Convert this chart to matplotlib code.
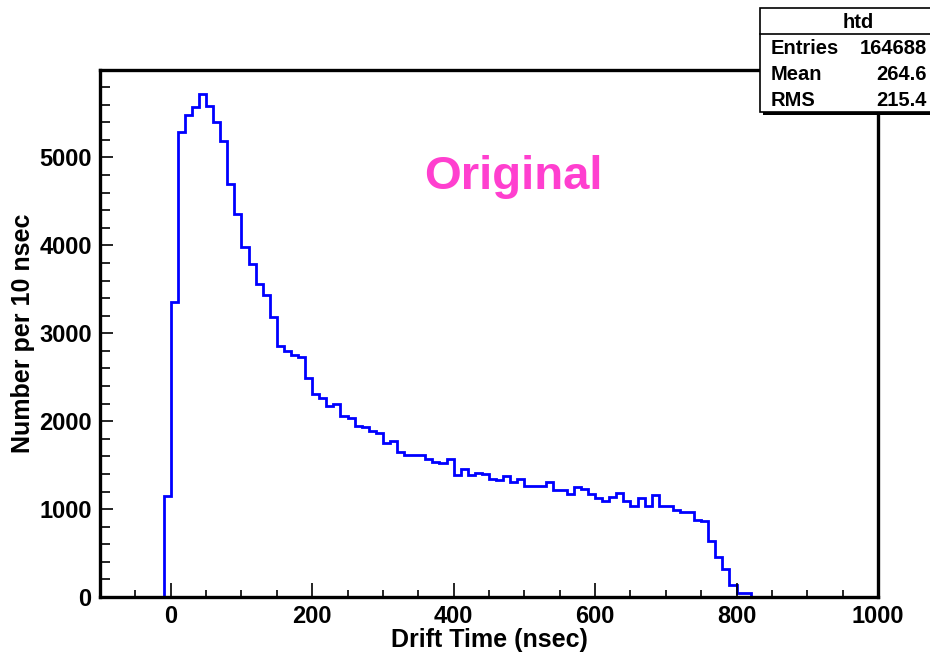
import numpy as np
import matplotlib.pyplot as plt
from matplotlib.patches import Rectangle
from matplotlib.ticker import MultipleLocator

plt.rcParams['font.family'] = ['Liberation Sans', 'DejaVu Sans']
plt.rcParams['font.weight'] = 'bold'

# histogram "htd": drift time, 10 nsec bins from -100 to 1000
bin_edges = np.arange(-100, 1001, 10)
counts = [
    0, 0, 0, 0, 0, 0, 0, 0, 0,                      # -100 .. -20
    1150,                                           # -10
    3360, 5290, 5480, 5570, 5720, 5590, 5400, 5190, 4700, 4360,   # 0 .. 90
    3980, 3790, 3560, 3430, 3180, 2860, 2800, 2750, 2730, 2490,   # 100 .. 190
    2310, 2260, 2170, 2200, 2060, 2040, 1950, 1930, 1890, 1870,   # 200 .. 290
    1750, 1770, 1650, 1620, 1620, 1620, 1565, 1540, 1530, 1570,   # 300 .. 390
    1390, 1460, 1390, 1415, 1400, 1345, 1330, 1380, 1310, 1340,   # 400 .. 490
    1260, 1265, 1265, 1305, 1220, 1220, 1175, 1250, 1230, 1175,   # 500 .. 590
    1125, 1090, 1140, 1180, 1090, 1040, 1125, 1040, 1165, 1040,   # 600 .. 690
    1040, 995, 970, 970, 880, 870, 640, 455, 315, 140,            # 700 .. 790
    45, 45, 0, 0, 0, 0, 0, 0, 0, 0,                               # 800 .. 890
    0, 0, 0, 0, 0, 0, 0, 0, 0, 0,                                 # 900 .. 990
]

stats_labels = ['Entries', 'Mean', 'RMS']
stats_values = ['164688', '264.6', '215.4']

W, H = 930, 659
fig = plt.figure(figsize=(W / 100, H / 100), dpi=100)

ax = fig.add_axes([100 / W, 1 - 597 / H, 778 / W, 527 / H])
ax.stairs(counts, bin_edges, color='#0000ff', lw=2.0)

ax.set_xlim(-100, 1000)
ax.set_ylim(0, 5995)
ax.xaxis.set_major_locator(MultipleLocator(200))
ax.xaxis.set_minor_locator(MultipleLocator(50))
ax.yaxis.set_major_locator(MultipleLocator(1000))
ax.yaxis.set_minor_locator(MultipleLocator(200))
ax.tick_params(which='both', direction='in', top=False, right=False,
               labelsize=17, width=1.2, color='black')
ax.tick_params(axis='x', which='major', length=10, pad=6)
ax.tick_params(axis='x', which='minor', length=5)
ax.tick_params(axis='y', which='major', length=9, pad=6)
ax.tick_params(axis='y', which='minor', length=7)
for lab in ax.get_xticklabels() + ax.get_yticklabels():
    lab.set_fontweight('bold')
for sp in ax.spines.values():
    sp.set_linewidth(2.4)

ax.set_xlabel('Drift Time (nsec)', fontsize=18, fontweight='bold', labelpad=0)
ax.set_ylabel('Number per 10 nsec', fontsize=18, fontweight='bold', labelpad=3)

ax.text(485, 4780, 'Original', color='#ff3fcf', fontsize=34,
        fontweight='bold', ha='center', va='center')

# stats box, partly off the right edge of the figure
def fx(px):
    return px / W

def fy(py):
    return 1 - py / H

box_l, box_r, box_t, box_b = 760, 956, 8, 112
fig.patches.append(Rectangle((fx(box_l + 3), fy(box_b + 3)), fx(box_r - box_l),
                             (box_b - box_t) / H, transform=fig.transFigure,
                             facecolor='black', edgecolor='none', zorder=5))
fig.patches.append(Rectangle((fx(box_l), fy(box_b)), fx(box_r - box_l),
                             (box_b - box_t) / H, transform=fig.transFigure,
                             facecolor='white', edgecolor='black', lw=1.2, zorder=6))
fig.lines.append(plt.Line2D([fx(box_l), fx(box_r)], [fy(34), fy(34)],
                            transform=fig.transFigure, color='black', lw=1.2, zorder=7))
fig.text(fx((box_l + box_r) / 2), fy(22), 'htd', fontsize=14.5, fontweight='bold',
         ha='center', va='center', zorder=8)
row_y = [48, 75, 101]
for lab, val, ry in zip(stats_labels, stats_values, row_y):
    fig.text(fx(771), fy(ry), lab, fontsize=14.5, fontweight='bold',
             ha='left', va='center', zorder=8)
    fig.text(fx(927), fy(ry), val, fontsize=14.5, fontweight='bold',
             ha='right', va='center', zorder=8)

fig.savefig('out.png', dpi=100)
